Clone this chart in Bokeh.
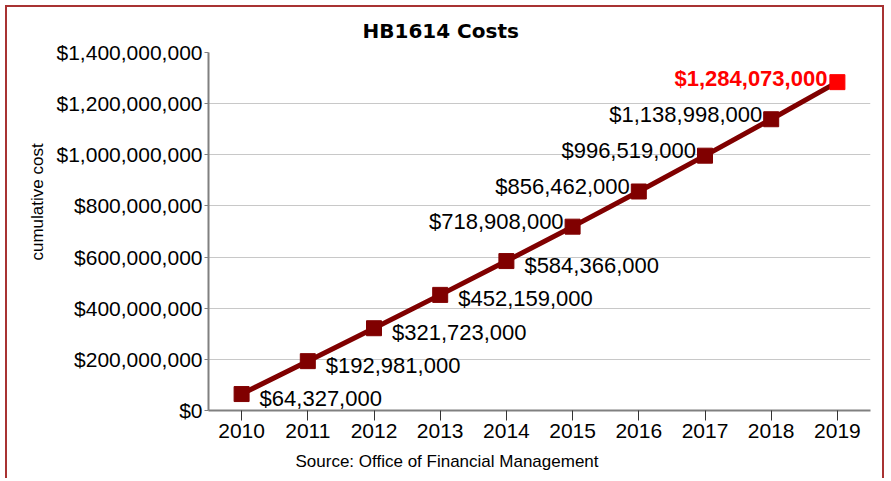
from bokeh.plotting import figure
from bokeh.models import Range1d, NumeralTickFormatter, FixedTicker, Title
from bokeh.core.properties import value
from bokeh.embed import file_html
from bokeh.resources import INLINE

# ---- data ----
years = [2010, 2011, 2012, 2013, 2014, 2015, 2016, 2017, 2018, 2019]
costs = [64327000, 192981000, 321723000, 452159000, 584366000,
         718908000, 856462000, 996519000, 1138998000, 1284073000]
y_ticks = [0, 200000000, 400000000, 600000000, 800000000,
           1000000000, 1200000000, 1400000000]
title_text = "HB1614 Costs"
y_label_text = "cumulative cost"
source_text = "Source: Office of Financial Management"

labels = ["${:,}".format(c) for c in costs]

FONT = "Liberation Sans"
DARK = "#800000"
BRIGHT = "#ff0000"
BORDER = "2px solid #a83232"

W, H = 879, 473
p = figure(width=W, height=H,
           x_range=Range1d(2009.5, 2019.5), y_range=Range1d(0, 1400000000),
           output_backend="svg", toolbar_location=None,
           min_border_left=201, min_border_right=16,
           min_border_top=45, min_border_bottom=70)
p.styles = {"border-left": BORDER, "border-right": BORDER, "border-top": BORDER,
            "margin-left": "5px", "margin-top": "5px"}
p.outline_line_color = None
p.background_fill_color = "white"
p.border_fill_color = "white"

# grid
p.xgrid.grid_line_color = None
p.ygrid.grid_line_color = "#c8c8c8"
p.ygrid.grid_line_width = 1

# axes
p.xaxis.ticker = FixedTicker(ticks=years)
p.xaxis.minor_tick_line_color = None
p.xaxis.major_tick_out = 10
p.xaxis.major_tick_in = 0
p.xaxis.major_tick_line_color = "#333333"
p.xaxis.axis_line_color = "#808080"
p.xaxis.axis_line_width = 2
p.xaxis.major_label_standoff = 3
p.xaxis.major_label_text_font = FONT
p.xaxis.major_label_text_font_size = "21px"
p.xaxis.major_label_text_color = "black"

p.yaxis.ticker = FixedTicker(ticks=y_ticks)
p.yaxis.formatter = NumeralTickFormatter(format="$0,0")
p.yaxis.minor_tick_line_color = None
p.yaxis.major_tick_out = 4
p.yaxis.major_tick_in = 0
p.yaxis.major_tick_line_color = "#808080"
p.yaxis.axis_line_color = "#808080"
p.yaxis.axis_line_width = 2
p.yaxis.major_label_standoff = 2
p.yaxis.major_label_text_font = FONT
p.yaxis.major_label_text_font_size = "21px"
p.yaxis.major_label_text_color = "black"

# series
p.line(years, costs, line_color=DARK, line_width=5)
colors = [DARK] * (len(years) - 1) + [BRIGHT]
p.scatter(years, costs, marker="square", size=15, fill_color=colors, line_color=colors)

# data labels
p.text(x=years[:5], y=costs[:5], text=labels[:5], x_offset=18, y_offset=4,
       text_align="left", text_baseline="middle",
       text_font=value(FONT), text_font_size="22px", text_color="black")
p.text(x=years[5:9], y=costs[5:9], text=labels[5:9], x_offset=-9, y_offset=-5,
       text_align="right", text_baseline="middle",
       text_font=value(FONT), text_font_size="22px", text_color="black")
p.text(x=years[9:], y=costs[9:], text=labels[9:], x_offset=-10, y_offset=-4,
       text_align="right", text_baseline="middle",
       text_font=value(FONT), text_font_size="22px", text_font_style="bold",
       text_color=BRIGHT)

# title, axis title, source (as side-panel titles)
p.add_layout(Title(text=title_text, align="left", offset=154, standoff=19,
                   text_font="DejaVu Sans", text_font_size="20px",
                   text_font_style="bold", text_color="black"), "above")
p.add_layout(Title(text=y_label_text, align="left", offset=150, standoff=14,
                   text_font=FONT, text_font_size="17px",
                   text_font_style="normal", text_color="black"), "left")
p.add_layout(Title(text=source_text, align="left", offset=87, standoff=18,
                   text_font=FONT, text_font_size="17px",
                   text_font_style="normal", text_color="black"), "below")

open("out.html", "w").write(file_html(p, INLINE))
